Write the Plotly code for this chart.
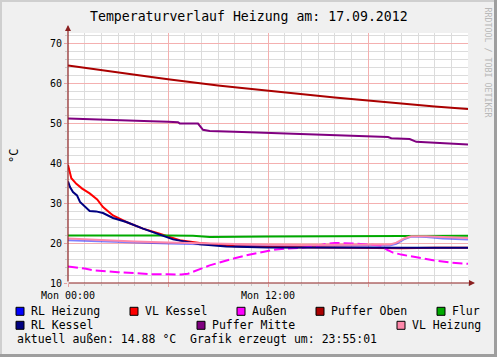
import plotly.graph_objects as go

# ---------------- data (hours since Mon 00:00, temperature in °C) ----------------
t_rl_heizung = [0, 2, 4, 6, 8, 10, 12, 14, 16, 18, 19.3, 19.7, 20.2, 20.6, 21.5, 22.5, 24]
rl_heizung = [20.7, 20.4, 20.1, 19.9, 19.7, 19.5, 19.35, 19.3, 19.3, 19.3, 19.35, 19.8, 21.0, 21.6, 21.5, 21.1, 20.9]

t_vl_kessel = [0, 0.2, 0.5, 0.85, 1.3, 1.75, 2.1, 2.7, 3.5, 4.5, 5.5, 6.7, 7.9, 9, 10, 12, 14, 16, 18, 20, 22, 24]
vl_kessel = [39.5, 36.2, 34.8, 33.6, 32.4, 30.9, 29.0, 26.9, 25.25, 23.6, 22.35, 20.7, 20.0, 19.5, 19.2, 19.0, 18.9, 18.9, 18.8, 18.7, 18.8, 18.8]

t_aussen = [0, 0.5, 1, 1.5, 2, 3, 4, 5, 6, 6.8, 7.2, 7.6, 8, 8.5, 9, 10, 11, 12, 12.5, 13, 14, 15, 15.5, 16, 17, 18, 18.8, 19.1, 19.5, 20, 21, 22, 23, 24]
aussen = [14.1, 13.9, 13.6, 13.2, 13.0, 12.7, 12.5, 12.2, 12.2, 12.1, 12.3, 13.0, 13.7, 14.4, 15.0, 16.2, 17.2, 18.1, 18.4, 18.6, 18.8, 19.3, 19.8, 20.0, 19.9, 19.6, 19.4, 18.4, 17.6, 17.1, 16.3, 15.6, 15.1, 14.8]

t_puffer_oben = list(range(0, 25))
puffer_oben = [64.35, 63.75, 63.15, 62.6, 62.05, 61.5, 60.95, 60.4, 59.85, 59.4, 58.95, 58.5, 58.05,
               57.6, 57.2, 56.8, 56.4, 56.0, 55.6, 55.2, 54.85, 54.5, 54.15, 53.8, 53.5]

t_flur = [0, 4, 6, 7.5, 8.5, 12, 16, 19.5, 20.5, 24]
flur = [21.85, 21.95, 21.9, 21.8, 21.5, 21.6, 21.65, 21.7, 21.8, 21.8]

t_rl_kessel = [0, 0.12, 0.3, 0.54, 0.72, 1.02, 1.3, 1.68, 2.1, 2.7, 3.5, 4.5, 5.5, 6.3, 7.9, 9.5, 12, 16, 20, 24]
rl_kessel = [35.4, 34.0, 32.75, 31.9, 30.25, 29.0, 28.0, 27.9, 27.5, 26.25, 25.25, 23.6, 22.2, 20.9, 19.7, 19.1, 18.9, 18.8, 18.8, 18.8]

t_puffer_mitte = [0, 1, 2, 3, 4, 5, 6, 6.6, 6.7, 7.8, 8.1, 8.5, 10, 12, 14, 16, 18, 19.2, 19.4, 20.5, 20.9, 22, 24]
puffer_mitte = [51.1, 51.0, 50.9, 50.75, 50.6, 50.45, 50.3, 50.2, 49.9, 49.85, 48.3, 48.0, 47.8, 47.5, 47.3, 47.0, 46.7, 46.5, 46.2, 46.0, 45.3, 45.0, 44.6]

t_vl_heizung = [0, 2, 4, 6, 8, 10, 12, 14, 16, 18, 19.3, 19.7, 20.2, 20.6, 21.5, 22.5, 24]
vl_heizung = [21.1, 20.7, 20.4, 20.1, 19.9, 19.7, 19.55, 19.5, 19.5, 19.5, 19.6, 20.1, 21.2, 21.7, 21.7, 21.5, 21.25]

x_tick_vals = [0, 6, 12, 18]
x_tick_text = ["Mon 00:00", "", "Mon 12:00", ""]
y_tick_vals = [10, 20, 30, 40, 50, 60, 70]

series = [
    ("RL Heizung", t_rl_heizung, rl_heizung, "#0000ff", "rgba(0,0,255,0.5)", "solid"),
    ("VL Kessel", t_vl_kessel, vl_kessel, "#ff0000", "#ff0000", "solid"),
    ("Außen", t_aussen, aussen, "#ff00ff", "#ff00ff", "10px,4px"),
    ("Puffer Oben", t_puffer_oben, puffer_oben, "#aa0000", "#aa0000", "solid"),
    ("Flur", t_flur, flur, "#00aa00", "#00aa00", "solid"),
    ("RL Kessel", t_rl_kessel, rl_kessel, "#000080", "#000080", "solid"),
    ("Puffer Mitte", t_puffer_mitte, puffer_mitte, "#800080", "#800080", "solid"),
    ("VL Heizung", t_vl_heizung, vl_heizung, "#ff88aa", "#ff88aa", "solid"),
]

W, H = 497, 357
L, R, T, B = 68, 29, 33, 74
PW, PH = W - L - R, H - T - B
MONO = "DejaVu Sans Mono"


def xp(px):
    return (px - L) / PW


def yp(py):
    return (H - B - py) / PH


fig = go.Figure()
for name, tx, vy, _, lc, dash in series:
    fig.add_trace(go.Scatter(x=tx, y=vy, mode="lines", name=name,
                             line=dict(color=lc, width=2, dash=dash),
                             showlegend=False, hoverinfo="skip"))

fig.update_layout(
    width=W, height=H,
    margin=dict(l=L, r=R, t=T, b=B, autoexpand=False),
    paper_bgcolor="#f0f0f0", plot_bgcolor="#ffffff",
    font=dict(family=MONO, color="#000000"),
    xaxis=dict(range=[0, 24], tickmode="array", tickvals=x_tick_vals, ticktext=x_tick_text,
               showgrid=True, gridcolor="#f4b0b0", gridwidth=1, zeroline=False,
               ticks="outside", ticklen=3, tickcolor="#e8a0a0",
               tickfont=dict(family=MONO, size=10, color="#000"),
               minor=dict(tickmode="linear", tick0=0, dtick=1, showgrid=True,
                          gridcolor="#dcdcdc", gridwidth=1, ticks="outside", ticklen=2,
                          tickcolor="#c8c8c8"),
               showline=False, fixedrange=True),
    yaxis=dict(range=[10, 72.5], tickmode="array", tickvals=y_tick_vals,
               ticktext=[str(v) for v in y_tick_vals],
               showgrid=True, gridcolor="#f4b0b0", gridwidth=1, zeroline=False,
               ticks="outside", ticklen=3, tickcolor="#e8a0a0",
               tickfont=dict(family=MONO, size=10, color="#000"),
               minor=dict(tickmode="linear", tick0=10, dtick=2, showgrid=True,
                          gridcolor="#dcdcdc", gridwidth=1, ticks="outside", ticklen=2,
                          tickcolor="#c8c8c8"),
               showline=False, fixedrange=True),
)

shapes = []
annotations = []

# frame of the image
shapes.append(dict(type="rect", xref="paper", yref="paper", x0=xp(0), x1=xp(2), y0=yp(H), y1=yp(0),
                   fillcolor="#cfcfcf", line=dict(width=0), layer="above"))
shapes.append(dict(type="rect", xref="paper", yref="paper", x0=xp(0), x1=xp(W), y0=yp(2), y1=yp(0),
                   fillcolor="#cfcfcf", line=dict(width=0), layer="above"))
shapes.append(dict(type="rect", xref="paper", yref="paper", x0=xp(W - 3), x1=xp(W), y0=yp(H), y1=yp(0),
                   fillcolor="#9e9e9e", line=dict(width=0), layer="above"))
shapes.append(dict(type="rect", xref="paper", yref="paper", x0=xp(0), x1=xp(W), y0=yp(H), y1=yp(H - 3),
                   fillcolor="#9e9e9e", line=dict(width=0), layer="above"))

# axes with arrows
annotations.append(dict(xref="paper", yref="paper", x=0, y=yp(25), ax=0, ay=258, text="",
                        showarrow=True, arrowhead=2, arrowsize=1, arrowwidth=1.2, arrowcolor="#8b2020"))
annotations.append(dict(xref="paper", yref="paper", x=xp(475), y=0, ax=-408, ay=0, text="",
                        showarrow=True, arrowhead=2, arrowsize=1, arrowwidth=1.2, arrowcolor="#8b2020"))

# title
annotations.append(dict(xref="paper", yref="paper", x=xp(249), y=yp(16.5), text="Temperaturverlauf Heizung am: 17.09.2012",
                        showarrow=False, xanchor="center", yanchor="middle",
                        font=dict(family=MONO, size=13.2, color="#000")))
# y label
annotations.append(dict(xref="paper", yref="paper", x=xp(14), y=yp(156), text="°C", textangle=-90,
                        showarrow=False, xanchor="center", yanchor="middle",
                        font=dict(family=MONO, size=12, color="#000")))
# watermark
annotations.append(dict(xref="paper", yref="paper", x=xp(487.5), y=yp(62), text="RRDTOOL / TOBI OETIKER", textangle=90,
                        showarrow=False, xanchor="center", yanchor="middle",
                        font=dict(family=MONO, size=8.3, color="#b8b8b8")))

# legend
legend_pos = {
    "RL Heizung": (16, 311.3), "VL Kessel": (130, 311.3), "Außen": (237, 311.3),
    "Puffer Oben": (316, 311.3), "Flur": (437, 311.3),
    "RL Kessel": (16, 325.3), "Puffer Mitte": (197, 325.3), "VL Heizung": (397, 325.3),
}
for name, tx, vy, col, lc, dash in series:
    sx, sy = legend_pos[name]
    shapes.append(dict(type="rect", xref="paper", yref="paper", x0=xp(sx), x1=xp(sx + 8),
                       y0=yp(sy + 4), y1=yp(sy - 4), fillcolor=col,
                       line=dict(color="#000000", width=1), layer="above"))
    annotations.append(dict(xref="paper", yref="paper", x=xp(sx + 12.5), y=yp(sy), text=name,
                            showarrow=False, xanchor="left", yanchor="middle",
                            font=dict(family=MONO, size=11.5, color="#000")))

annotations.append(dict(xref="paper", yref="paper", x=xp(14.5), y=yp(339.3),
                        text="aktuell außen: 14.88 °C  Grafik erzeugt um: 23:55:01",
                        showarrow=False, xanchor="left", yanchor="middle",
                        font=dict(family=MONO, size=11.5, color="#000")))

fig.update_layout(shapes=shapes, annotations=annotations)
fig.write_html("out.html", config={"displayModeBar": False},
               post_script="document.body.style.margin='0';document.body.style.overflow='hidden';")
